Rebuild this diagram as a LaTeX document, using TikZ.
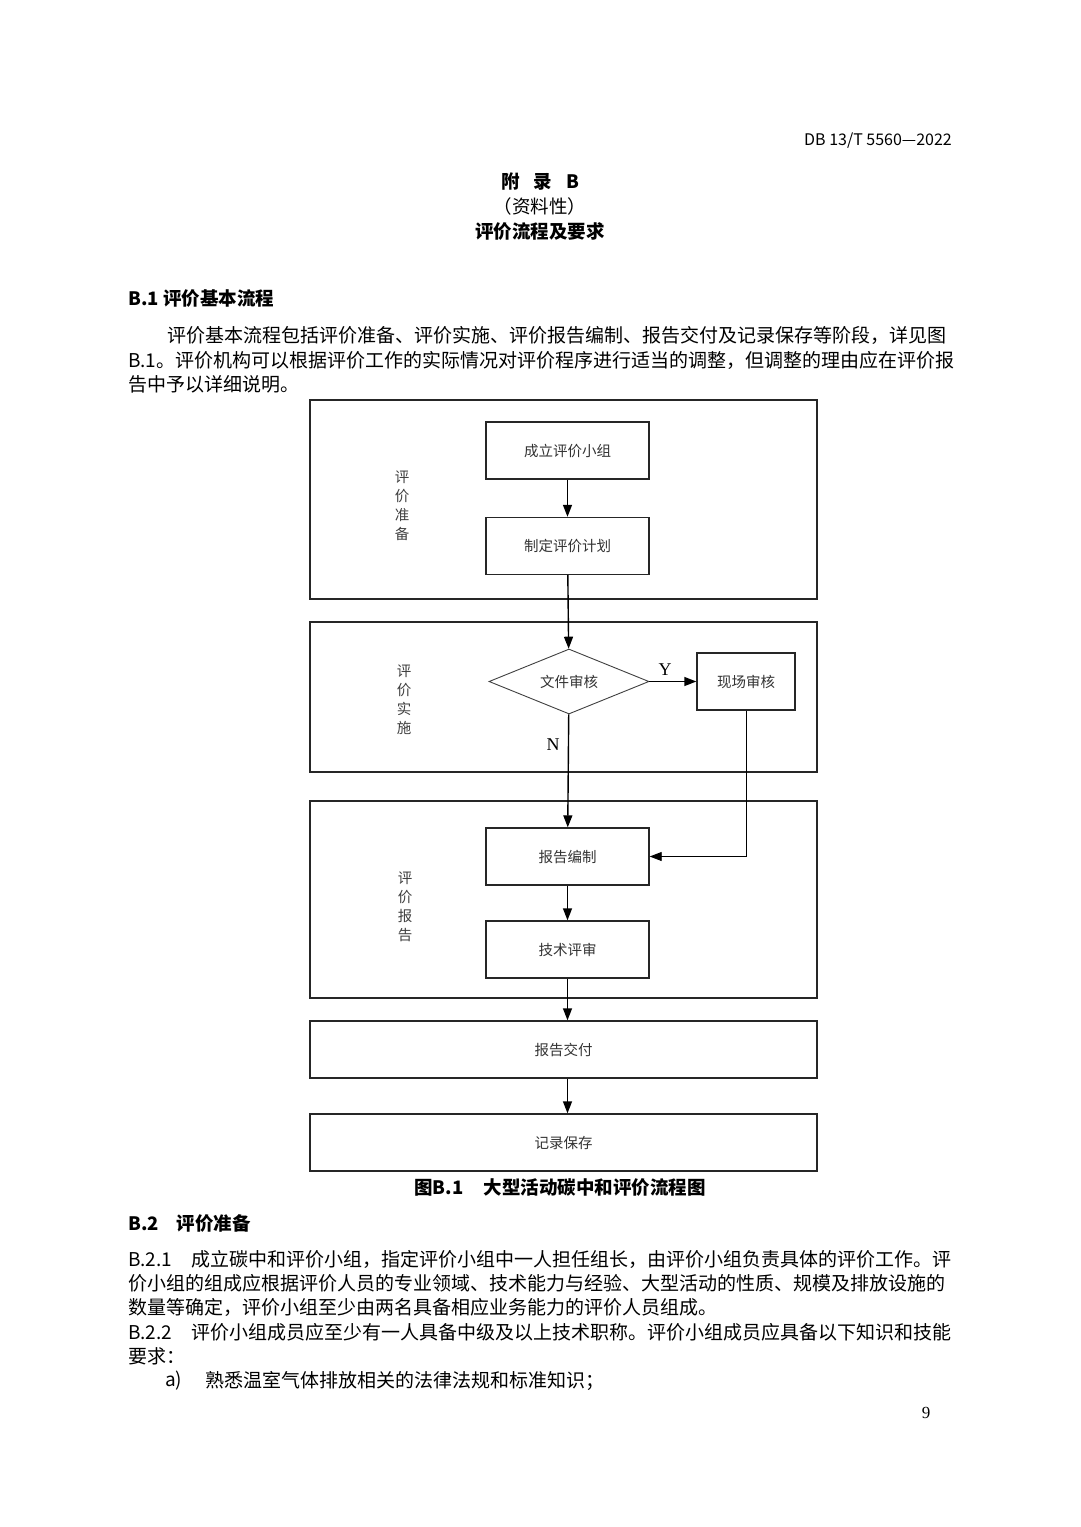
\documentclass[tikz,border=0pt]{standalone}
\usepackage{fontspec}
\setmainfont{Liberation Serif}
\newfontfamily\cjk{Noto Sans CJK SC}
\usetikzlibrary{shapes.geometric,arrows.meta}
\XeTeXlinebreaklocale "zh"
\XeTeXlinebreakskip=0pt plus 4pt minus 1pt
% one justified line of body text
\newcommand\jline[2][823pt]{\makebox[#1][s]{#2}}
\newcommand\bodyfont{\fontsize{19}{24}\cjk}
\newcommand\headfont{\fontsize{18.5}{24}\cjk\bfseries}
\newcommand\diagfont{\fontsize{14.5}{19}\cjk}

\begin{document}
\begin{tikzpicture}[x=1pt,y=-1pt,
    txt/.style={anchor=west, inner sep=0pt, font=\bodyfont},
    head/.style={inner sep=0pt, font=\headfont},
    stage/.style={draw=black!85, line width=1.4pt, inner sep=0pt, minimum width=507pt},
    box/.style={draw=black!85, line width=1.4pt, minimum width=163pt, minimum height=57pt,
      font=\diagfont, text=black!80},
    check/.style={diamond, draw=black!75, line width=0.9pt, inner sep=0pt, aspect=2.46,
      minimum width=160pt, minimum height=65pt, font=\diagfont, text=black!80},
    side/.style={align=center, inner sep=0pt, font=\fontsize{14.5}{19}\cjk, text=black!75},
    yn/.style={inner sep=0pt, font=\fontsize{18}{20}\selectfont},
    flow/.style={-{Triangle[length=12pt,width=9pt]}, line width=1.4pt}]
  \fill[white] (0,0) rectangle (1080,1527);
  \useasboundingbox (0,0) rectangle (1080,1527);

  % page head and title
  \node[inner sep=0pt, anchor=east, font=\fontsize{16}{20}\cjk] (std) at (952,141) {DB 13/T 5560—2022};
  \node[head] (appx) at (540,182) {附\kern14pt 录\kern14pt B};
  \node[head, font=\fontsize{18.5}{24}\cjk] (kind) at (540,206) {（资料性）};
  \node[head] (title) at (540,231) {评价流程及要求};

  % B.1
  \node[txt, font=\headfont] (b1) at (128,299) {B.1 评价基本流程};
  \node[txt] (p1a) at (167,335) {\jline[784pt]{评价基本流程包括评价准备、评价实施、评价报告编制、报告交付及记录保存等阶段，详见图}};
  \node[txt] (p1b) at (128,360) {\jline{B.1。评价机构可以根据评价工作的实际情况对评价程序进行适当的调整，但调整的理由应在评价报}};
  \node[txt] (p1c) at (128,384) {告中予以详细说明。};

  % stages
  \node[stage, minimum height=199pt] (prep) at (563.5,499.5) {};
  \node[stage, minimum height=150pt] (impl) at (563.5,697) {};
  \node[stage, minimum height=197pt] (rept) at (563.5,899.5) {};
  \node[side] at (402,506) {评\\价\\准\\备};
  \node[side] at (404,700) {评\\价\\实\\施};
  \node[side] at (405,907) {评\\价\\报\\告};

  % steps
  \node[box] (team) at (567.5,450.5) {成立评价小组};
  \node[box] (plan) at (567.5,546) {制定评价计划};
  \node[check] (docs) at (569,681.5) {文件审核};
  \node[box, minimum width=98pt] (site) at (746,681.5) {现场审核};
  \node[box] (draft) at (567.5,856.5) {报告编制};
  \node[box] (review) at (567.5,949.5) {技术评审};
  \node[box, minimum width=507pt] (deliver) at (563.5,1049.5) {报告交付};
  \node[box, minimum width=507pt] (keep) at (563.5,1142.5) {记录保存};
  \node[yn] (yes) at (665,670) {Y};
  \node[yn] (no) at (553,745) {N};

  \draw[flow] (team) -- (plan);
  \draw[flow] (plan) -- (docs);
  \draw[flow] (docs) -- (site);
  \draw[flow] (docs) -- (draft);
  \draw[flow, line width=0.9pt] (site.south) |- (draft.east);
  \draw[flow] (draft) -- (review);
  \draw[flow] (review.south) -- (review.south |- deliver.north);
  \draw[flow] (review.south |- deliver.south) -- (review.south |- keep.north);

  \node[head] (cap) at (560,1188) {图B.1\kern20pt 大型活动碳中和评价流程图};

  % B.2
  \node[txt, font=\headfont] (b2) at (128,1223) {B.2\kern18pt 评价准备};
  \node[txt] (p2a) at (128,1259) {\jline{{\cjk B.2.1}\kern19pt 成立碳中和评价小组，指定评价小组中一人担任组长，由评价小组负责具体的评价工作。评}};
  \node[txt] (p2b) at (128,1283) {\jline{价小组的组成应根据评价人员的专业领域、技术能力与经验、大型活动的性质、规模及排放设施的}};
  \node[txt] (p2c) at (128,1307) {数量等确定，评价小组至少由两名具备相应业务能力的评价人员组成。};
  \node[txt] (p3a) at (128,1332) {\jline{B.2.2\kern19pt 评价小组成员应至少有一人具备中级及以上技术职称。评价小组成员应具备以下知识和技能}};
  \node[txt] (p3b) at (128,1356) {要求：};
  \node[txt] (ia) at (165,1381) {a)};
  \node[txt] (iatext) at (205,1381) {熟悉温室气体排放相关的法律法规和标准知识；};
  \node[inner sep=0pt, font=\fontsize{17}{20}\selectfont] (page) at (926,1413) {9};
\end{tikzpicture}
\end{document}
